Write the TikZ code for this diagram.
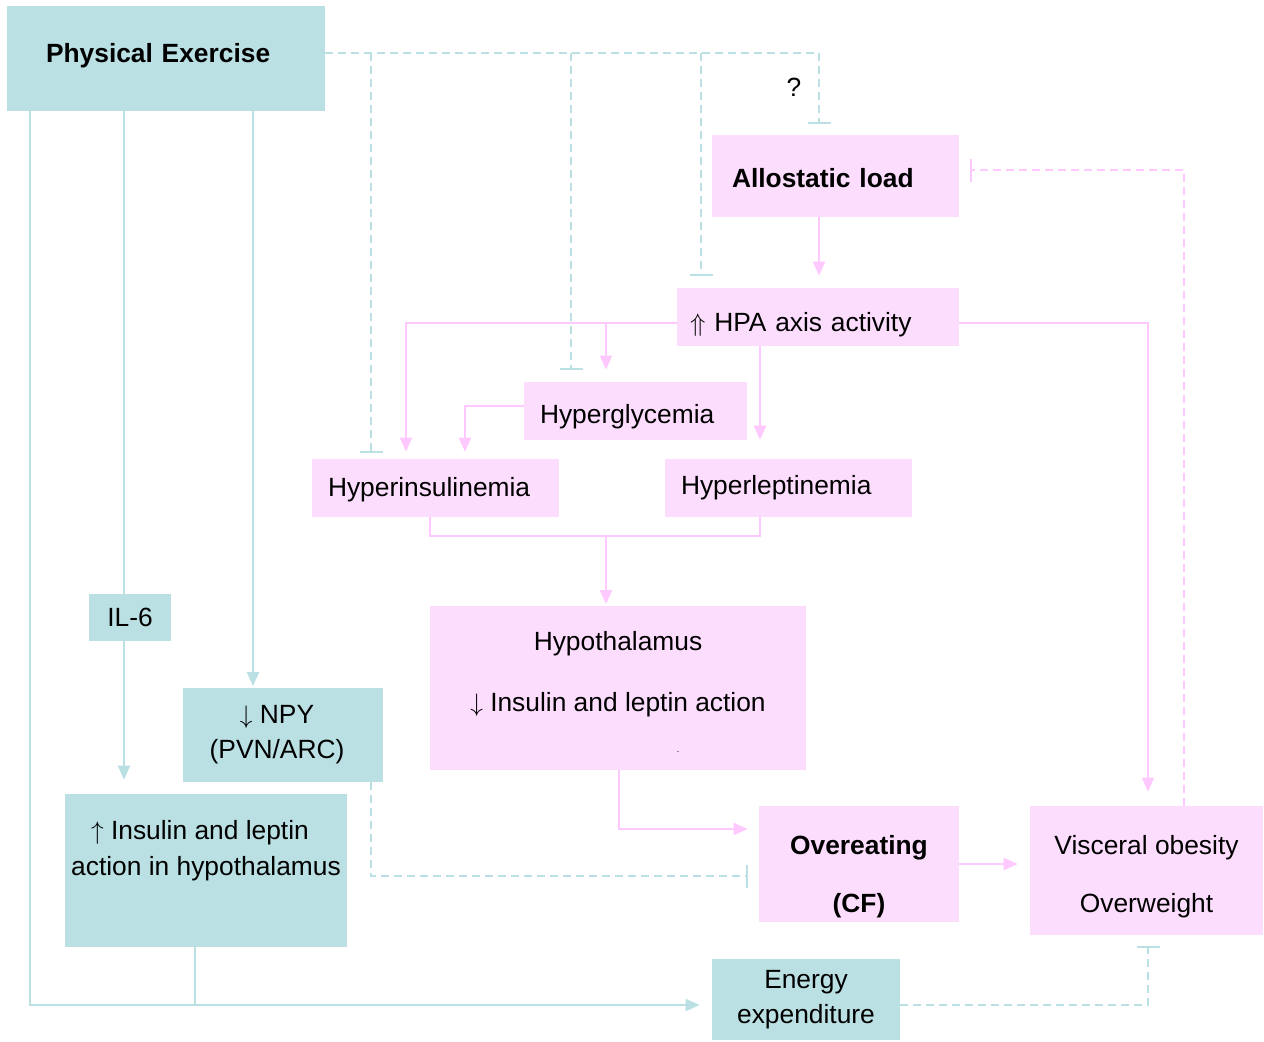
\documentclass[tikz,border=0pt]{standalone}
\usepackage{fontspec}
\setmainfont{Liberation Sans}
\usetikzlibrary{arrows.meta}
\definecolor{tealbox}{HTML}{BAE0E3}
\definecolor{pinkbox}{HTML}{FDDDFD}
\definecolor{pinkline}{HTML}{FFC8FF}

\begin{document}
\begin{tikzpicture}[x=0.02cm,y=-0.02cm,
    every node/.style={font=\fontsize{15}{18}\selectfont},
    tbox/.style={fill=tealbox,inner sep=0,align=center},
    pbox/.style={fill=pinkbox,inner sep=0,align=center},
    tline/.style={draw=tealbox,line width=1.1pt},
    pline/.style={draw=pinkline,line width=1.1pt},
    tdash/.style={draw=tealbox,line width=0.8pt,dash pattern=on 0.16cm off 0.1cm},
    pdash/.style={draw=pinkline,line width=0.8pt,dash pattern=on 0.16cm off 0.1cm},
    arr/.style={-{Triangle[width=0.24cm,length=0.28cm]},shorten >=#1},
    arr/.default=0.24cm,
    blk/.style={-{Bar[width=0.46cm]},shorten >=#1},
    blk/.default=0.22cm]
        \useasboundingbox (0,0) rectangle (1264,1041);
        % boxes
        \node[tbox,align=left,inner xsep=0.78cm,text width=4.8cm,minimum height=2.1cm,text depth=6.6pt] (pe) at (166,58.5) {\bfseries Physical Exercise};
        \node[pbox,align=left,inner xsep=0.4cm,text width=4.14cm,minimum height=1.64cm,text height=13pt] (al) at (835.5,176) {\bfseries Allostatic load};
        \node[pbox,align=left,inner xsep=0.26cm,text width=5.12cm,minimum height=1.16cm,text height=20pt] (hpa) at (818,317) {$\Uparrow$ HPA axis activity};
        \node[pbox,align=left,inner xsep=0.32cm,text width=3.82cm,minimum height=1.16cm,text height=17.7pt] (hgly) at (635.5,411) {Hyperglycemia};
        \node[pbox,align=left,inner xsep=0.32cm,text width=4.3cm,minimum height=1.16cm,text height=13pt] (hins) at (435.5,488) {Hyperinsulinemia};
        \node[pbox,align=left,inner xsep=0.32cm,text width=4.3cm,minimum height=1.16cm] (hlep) at (788.5,488) {Hyperleptinemia};
        \node[pbox,minimum width=7.52cm,minimum height=3.28cm,text height=73.3pt,text depth=0pt] (hypo) at (618,688)
        {Hypothalamus\\[17pt]$\downarrow$ Insulin and leptin action\\[5pt]\hspace*{2.4cm}{\tiny .}};
        \node[pbox,minimum width=4cm,minimum height=2.32cm,text height=59pt,text depth=3.5pt] (oe) at (859,864) {\bfseries Overeating\\[15pt]\bfseries (CF)};
        \node[pbox,minimum width=4.66cm,minimum height=2.58cm,text height=51pt,text depth=3.2pt] (vo) at (1146.5,870.5) {Visceral obesity\\[15pt]Overweight};
        \node[tbox,minimum width=1.64cm,minimum height=0.94cm] (il6) at (130,617.5) {IL-6};
        \node[tbox,minimum width=4cm,minimum height=1.88cm] (npy) at (283,735) {$\downarrow$ NPY\hspace*{0.24cm}\\[2pt](PVN/ARC)\hspace*{0.24cm}};
        \node[tbox,minimum width=5.64cm,minimum height=3.06cm,text depth=5.6pt] (ins) at (206,870.5)
        {$\uparrow$ Insulin and leptin\hspace*{0.24cm}\\[2.5pt]action in hypothalamus\hspace*{0.24cm}\\[2.5pt]\mbox{}};
        \node[tbox,minimum width=3.76cm,minimum height=1.62cm] (ee) at (806,999.5) {Energy\\[2pt]expenditure};
        \node (q) at (794,87) {?};
        % exercise, solid
        \draw[tline] (pe.south -| 124,0) -- (il6.north -| 124,0);
        \draw[tline,arr=0.28cm] (il6.south -| 124,0) -- (ins.north -| 124,0);
        \draw[tline,arr=0.03cm] (pe.south -| 253,0) -- (npy.north -| 253,0);
        \draw[tline,arr] (pe.south -| 30,0) |- (ee.west |- 0,1005);
        \draw[tline] (ins.south -| 195,0) -- (195,1005);
        % exercise, inhibition
        \draw[tdash,blk] (pe.east |- 0,53) -| (al.north -| 819,0);
        \draw[tdash,blk=0.12cm] (371,53) -- (hins.north -| 371,0);
        \draw[tdash,blk=0.24cm] (571,53) -- (hgly.north -| 571,0);
        \draw[tdash,blk=0.24cm] (701,53) -- (hpa.north -| 701,0);
        \draw[tdash,blk] (npy.south -| 371,0) |- (oe.west |- 0,876);
        \draw[tdash,blk] (ee.east |- 0,1005) -| (vo.south -| 1148,0);
        % stress axis
        \draw[pline,arr] (al.south -| 819,0) -- (hpa.north -| 819,0);
        \draw[pline,arr=0.14cm] (hpa.west |- 0,323) -| (hins.north -| 406,0);
        \draw[pline,arr] (606,323) -- (hgly.north -| 606,0);
        \draw[pline,arr=0.38cm] (hpa.south -| 760,0) -- (hlep.north -| 760,0);
        \draw[pline,arr=0.14cm] (hgly.west |- 0,406) -| (hins.north -| 465,0);
        \draw[pline,arr=0.28cm] (hpa.east |- 0,323) -| (vo.north -| 1148,0);
        \draw[pline] (hins.south -| 430,0) |- (760,536) -- (hlep.south -| 760,0);
        \draw[pline,arr=0.03cm] (606,536) -- (hypo.north -| 606,0);
        \draw[pline,arr=0.22cm] (hypo.south -| 619,0) |- (oe.west |- 0,829);
        \draw[pline,arr] (oe.east |- 0,864) -- (vo.west |- 0,864);
        \draw[pdash,blk] (vo.north -| 1184,0) |- (al.east |- 0,170);
\end{tikzpicture}
\end{document}
